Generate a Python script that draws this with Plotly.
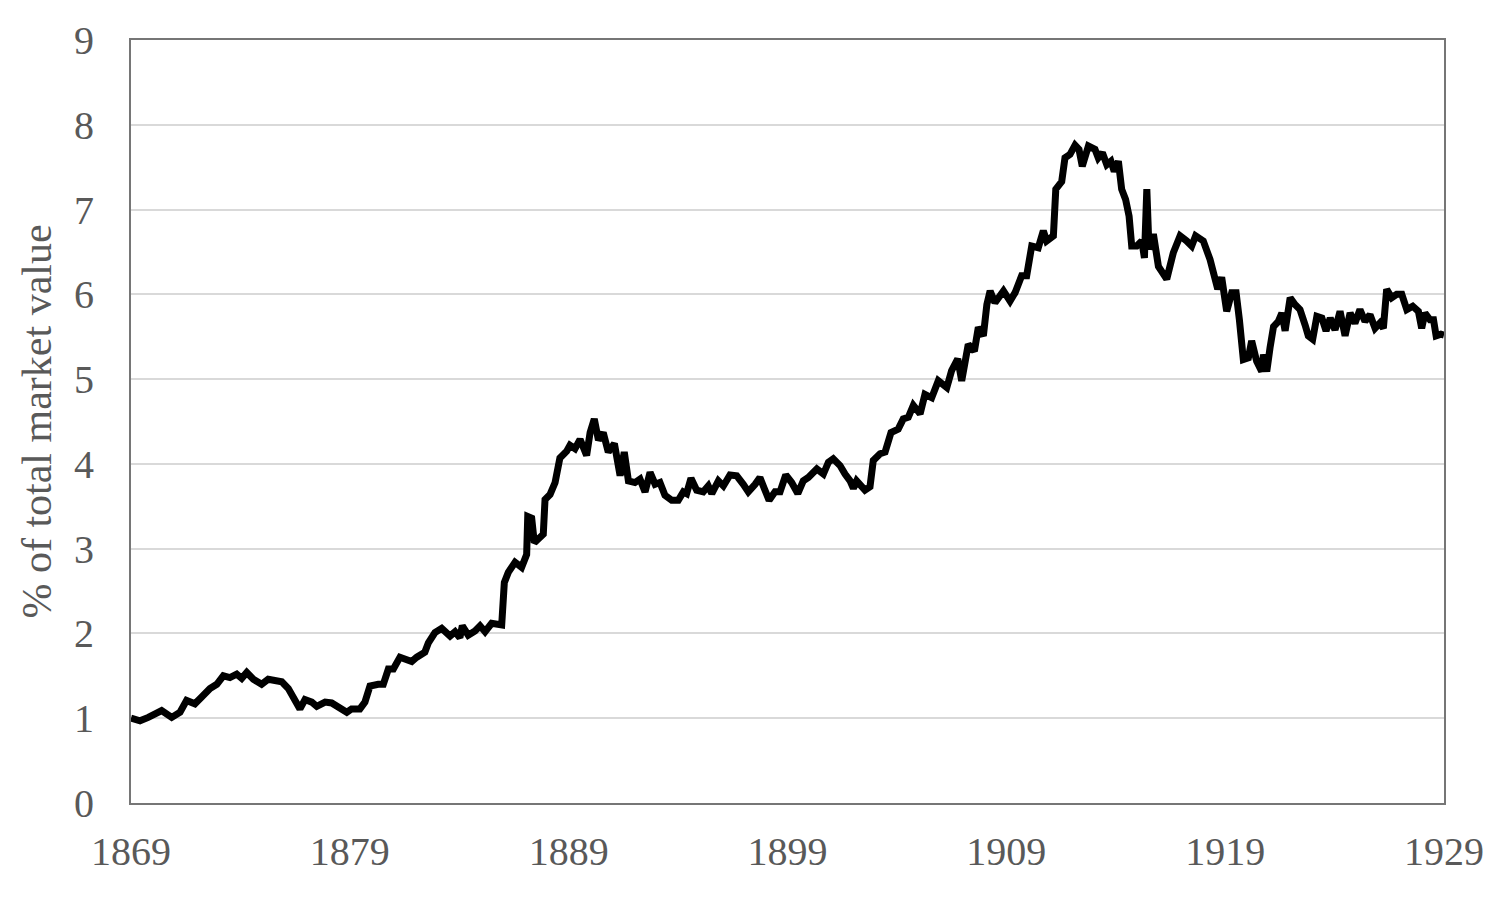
import plotly.graph_objects as go

years = [
    1869.00, 1869.41, 1869.79, 1870.40, 1870.86, 1871.24, 1871.54, 1871.92, 1872.23, 1872.61,
    1872.92, 1873.22, 1873.52, 1873.83, 1874.06, 1874.29, 1874.59, 1874.97, 1875.27, 1875.58,
    1875.89, 1876.19, 1876.49, 1876.72, 1876.95, 1877.26, 1877.49, 1877.87, 1878.17, 1878.55,
    1878.86, 1879.08, 1879.46, 1879.69, 1879.92, 1880.30, 1880.53, 1880.76, 1880.99, 1881.29,
    1881.83, 1882.06, 1882.43, 1882.59, 1882.89, 1883.20, 1883.58, 1883.81, 1884.03, 1884.14,
    1884.41, 1884.72, 1884.95, 1885.18, 1885.48, 1885.94, 1886.06, 1886.24, 1886.55, 1886.85,
    1887.08, 1887.13, 1887.31, 1887.43, 1887.61, 1887.84, 1887.92, 1888.15, 1888.38, 1888.60,
    1888.91, 1889.06, 1889.29, 1889.52, 1889.82, 1889.98, 1890.17, 1890.36, 1890.58, 1890.81,
    1891.09, 1891.35, 1891.54, 1891.73, 1892.03, 1892.26, 1892.49, 1892.72, 1892.95, 1893.17,
    1893.40, 1893.71, 1894.01, 1894.24, 1894.39, 1894.59, 1894.85, 1895.15, 1895.38, 1895.54,
    1895.84, 1896.07, 1896.37, 1896.68, 1896.98, 1897.21, 1897.52, 1897.74, 1897.94, 1898.16,
    1898.43, 1898.66, 1898.92, 1899.19, 1899.47, 1899.72, 1899.95, 1900.34, 1900.64, 1900.87,
    1901.09, 1901.40, 1901.63, 1901.86, 1902.01, 1902.16, 1902.54, 1902.77, 1902.92, 1903.23,
    1903.46, 1903.73, 1904.06, 1904.29, 1904.52, 1904.75, 1905.06, 1905.28, 1905.59, 1905.89,
    1906.28, 1906.50, 1906.78, 1906.96, 1907.26, 1907.54, 1907.72, 1907.95, 1908.11, 1908.26,
    1908.48, 1908.87, 1909.17, 1909.40, 1909.70, 1909.93, 1910.16, 1910.46, 1910.69, 1910.84,
    1911.15, 1911.26, 1911.53, 1911.68, 1911.91, 1912.14, 1912.32, 1912.47, 1912.75, 1913.05,
    1913.20, 1913.39, 1913.59, 1913.78, 1913.93, 1914.12, 1914.27, 1914.45, 1914.61, 1914.73,
    1914.96, 1915.19, 1915.31, 1915.42, 1915.52, 1915.72, 1915.95, 1916.33, 1916.63, 1916.94,
    1917.24, 1917.47, 1917.65, 1918.00, 1918.31, 1918.54, 1918.66, 1918.84, 1919.07, 1919.30,
    1919.50, 1919.65, 1919.83, 1920.06, 1920.21, 1920.44, 1920.67, 1920.75, 1920.90, 1921.05,
    1921.21, 1921.43, 1921.59, 1921.74, 1921.97, 1922.19, 1922.42, 1922.65, 1922.80, 1923.00,
    1923.19, 1923.42, 1923.61, 1923.80, 1924.02, 1924.25, 1924.48, 1924.71, 1924.93, 1925.16,
    1925.39, 1925.62, 1925.85, 1926.07, 1926.23, 1926.38, 1926.61, 1926.84, 1927.07, 1927.30,
    1927.57, 1927.83, 1927.98, 1928.13, 1928.36, 1928.52, 1928.64, 1928.86, 1929.00,
]

share = [
    1.00, 0.97, 1.01, 1.09, 1.01, 1.07, 1.21, 1.17, 1.25, 1.35,
    1.40, 1.50, 1.48, 1.52, 1.47, 1.54, 1.46, 1.40, 1.46, 1.44,
    1.43, 1.35, 1.21, 1.11, 1.22, 1.19, 1.14, 1.19, 1.18, 1.13,
    1.07, 1.11, 1.11, 1.19, 1.38, 1.40, 1.40, 1.58, 1.58, 1.72,
    1.67, 1.72, 1.78, 1.89, 2.01, 2.06, 1.97, 2.02, 1.95, 2.09,
    1.98, 2.03, 2.09, 2.02, 2.12, 2.10, 2.60, 2.72, 2.84, 2.78,
    2.93, 3.38, 3.36, 3.07, 3.11, 3.17, 3.58, 3.64, 3.78, 4.07,
    4.15, 4.22, 4.18, 4.29, 4.10, 4.37, 4.53, 4.28, 4.37, 4.14,
    4.24, 3.86, 4.14, 3.80, 3.78, 3.82, 3.67, 3.90, 3.76, 3.78,
    3.63, 3.57, 3.57, 3.67, 3.65, 3.83, 3.69, 3.67, 3.74, 3.65,
    3.80, 3.74, 3.87, 3.86, 3.76, 3.67, 3.76, 3.84, 3.71, 3.57,
    3.67, 3.67, 3.87, 3.78, 3.65, 3.80, 3.84, 3.94, 3.88, 4.02,
    4.06, 3.98, 3.88, 3.80, 3.71, 3.80, 3.69, 3.73, 4.04, 4.12,
    4.14, 4.37, 4.41, 4.53, 4.55, 4.69, 4.59, 4.82, 4.78, 4.98,
    4.90, 5.10, 5.24, 4.98, 5.41, 5.33, 5.61, 5.51, 5.88, 6.04,
    5.90, 6.04, 5.92, 6.02, 6.22, 6.22, 6.57, 6.55, 6.75, 6.63,
    6.69, 7.24, 7.33, 7.61, 7.65, 7.76, 7.71, 7.51, 7.75, 7.71,
    7.61, 7.67, 7.53, 7.57, 7.45, 7.57, 7.24, 7.12, 6.92, 6.57,
    6.57, 6.63, 6.43, 7.24, 6.53, 6.71, 6.33, 6.18, 6.49, 6.69,
    6.63, 6.57, 6.69, 6.63, 6.41, 6.22, 6.06, 6.20, 5.80, 6.02,
    6.02, 5.70, 5.23, 5.25, 5.45, 5.21, 5.09, 5.29, 5.09, 5.37,
    5.62, 5.68, 5.78, 5.57, 5.96, 5.88, 5.82, 5.64, 5.51, 5.47,
    5.74, 5.72, 5.57, 5.72, 5.58, 5.80, 5.51, 5.78, 5.66, 5.82,
    5.68, 5.76, 5.60, 5.66, 5.60, 6.06, 5.96, 6.00, 6.00, 5.82,
    5.86, 5.80, 5.60, 5.78, 5.70, 5.70, 5.51, 5.53, 5.52,
]

x_ticks = [1869, 1879, 1889, 1899, 1909, 1919, 1929]
y_ticks = [0, 1, 2, 3, 4, 5, 6, 7, 8, 9]
y_title = "% of total market value"

FONT = "Liberation Serif, Times New Roman, serif"
TXT = "#595959"
AXIS = "#767676"
GRID = "#d9d9d9"

fig = go.Figure(
    go.Scatter(
        x=years, y=share, mode="lines",
        line=dict(color="#000000", width=7, shape="linear"),
        hoverinfo="skip",
    )
)

# page body has an 8px default margin, so the figure is sized to fit the window
fig.update_layout(
    width=1484, height=890,
    margin=dict(l=123, r=48, t=32, b=95),
    paper_bgcolor="white", plot_bgcolor="white",
    showlegend=False,
    font=dict(family=FONT, color=TXT, size=40),
)

fig.update_xaxes(
    range=[1869, 1929], tickmode="array", tickvals=x_ticks,
    ticktext=[str(t) for t in x_ticks],
    showgrid=False, zeroline=False, automargin=False,
    showline=True, mirror=True, linecolor=AXIS, linewidth=2,
    ticks="", tickfont=dict(family=FONT, color=TXT, size=40),
    ticklabelstandoff=12,
)
fig.update_yaxes(
    range=[0, 9], tickmode="array", tickvals=y_ticks,
    showgrid=True, gridcolor=GRID, gridwidth=2, zeroline=False, automargin=False,
    showline=True, mirror=True, linecolor=AXIS, linewidth=2,
    ticks="", tickfont=dict(family=FONT, color=TXT, size=40),
    ticklabelstandoff=27,
    title=dict(text=y_title, font=dict(family=FONT, color=TXT, size=42), standoff=9),
)

fig.write_html("out.html")
